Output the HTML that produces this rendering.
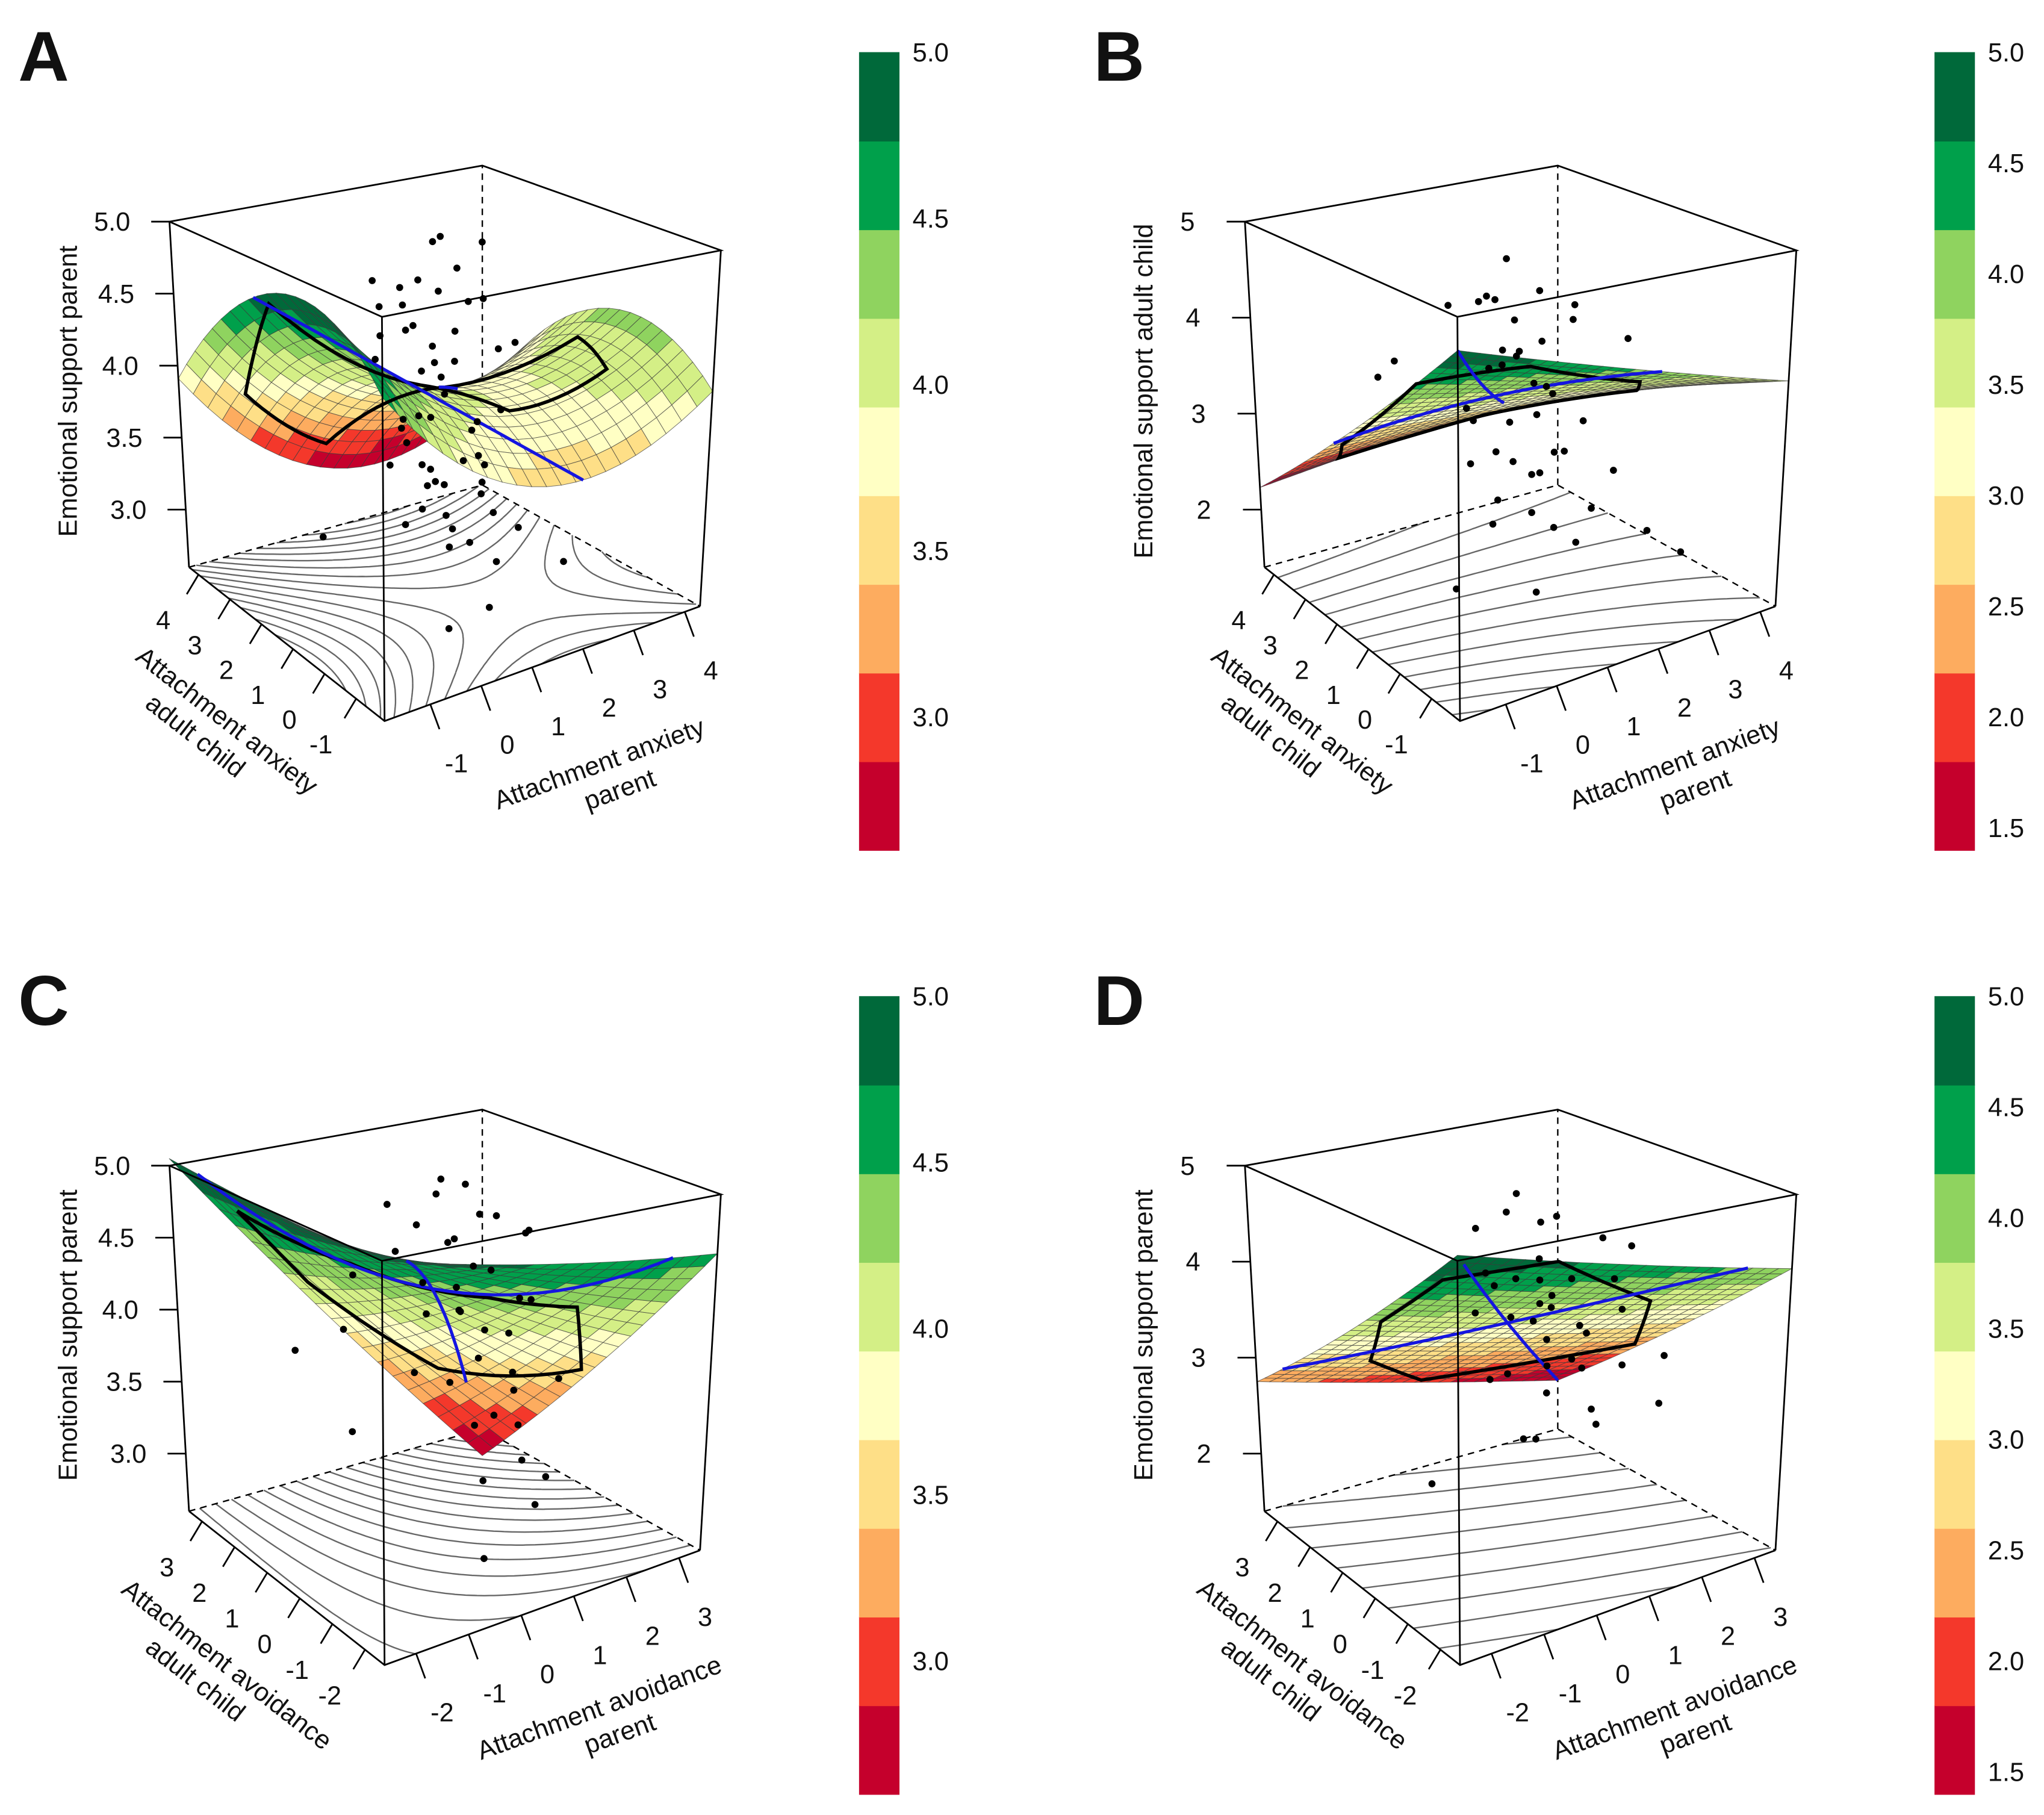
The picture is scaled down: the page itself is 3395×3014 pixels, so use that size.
<!DOCTYPE html>
<html><head><meta charset="utf-8">
<style>
html,body{margin:0;padding:0;background:#fff;}
svg{display:block;}
text{font-family:"Liberation Sans",Arial,sans-serif;fill:#111;}
</style></head>
<body>
<svg id="fig" width="3395" height="3014" viewBox="0 0 1568 1392" preserveAspectRatio="none" xmlns="http://www.w3.org/2000/svg"></svg>
<script>
// ---------- data ----------
const palette = ["#c5002c","#f4382b","#fdac5f","#fedf87","#ffffc4","#d4ef86","#8fd35f","#00a04b","#00693a"];
const rangeAnx = [-1.9, 4.3];
const rangeAvo = [-2.6, 3.4];
const zRangeAC = [2.6, 5.0];
const zRangeBD = [1.4, 5.0];
const zTicksAC = [3.0, 3.5, 4.0, 4.5, 5.0];
const zTicksBD = [2, 3, 4, 5];
const xyTicksAnx = [-1, 0, 1, 2, 3, 4];
const xyTicksAvo = [-2, -1, 0, 1, 2, 3];
const cbLabelsAC = [3.0, 3.5, 4.0, 4.5, 5.0];
const cbLabelsBD = [1.5, 2.0, 2.5, 3.0, 3.5, 4.0, 4.5, 5.0];
// surface coefficients in normalized diagonal coords: [const, D, D^2, S, S^2, D*S]
const coefA = [4.0, -0.07, -0.02, -0.63, -0.11, -2.4];
const coefB = [3.3, -0.725, -0.345, -1.085, 0.315, 0];
const coefC = [4.2, 0.225, 0.625, -1.3, -0.5, 0];
const coefD = [3.5, -0.75, 0, -1.55, 0, 0];
const pointsA = [[1.5,1.8,4.9],[2.0,2.3,4.85],[2.6,2.0,4.8],[0.4,1.9,4.7],[0.8,1.2,4.75],[1.0,2.0,4.6],[1.4,1.5,4.6],[1.7,1.1,4.55],[0.5,0.9,4.5],[1.1,0.6,4.45],[2.2,1.4,4.5],[0.2,1.4,4.4],[0.9,1.7,4.35],[1.8,0.4,4.3],[1.3,0.9,4.2],[2.4,0.8,4.25],[0.7,0.3,4.1],[1.6,1.9,4.05],[0.1,0.6,3.95],[1.2,0.1,3.9],[2.0,0.6,3.85],[0.6,1.4,3.75],[1.0,0.2,3.65],[1.5,0.5,3.6],[0.3,0.2,3.55],[0.9,1.0,3.5],[1.9,0.9,3.45],[0.4,-0.2,3.4],[1.2,1.3,3.35],[0.0,0.4,3.3],[1.6,0.2,3.25],[0.8,-0.3,3.2],[2.1,0.2,3.1],[1.4,-0.2,3.0],[-0.6,2.0,3.05],[2.6,-0.4,2.9],[1.0,-0.6,2.8],[0.2,-0.6,2.75],
  [0.3,0.9,4.65],[0.6,0.5,4.4],[-0.1,1.1,4.3],[0.5,0.1,4.25],[1.0,1.4,4.1],[0.2,0.3,4.0],[0.7,0.7,3.9],[1.3,0.4,3.8],[0.0,-0.1,3.75],[0.5,1.1,3.7],[1.1,-0.2,3.55],[0.9,0.6,3.45],[0.4,0.5,3.35],[1.7,0.7,3.3],[0.6,0.0,3.15],[1.2,0.8,3.1],[0.1,1.0,3.6],[0.8,2.3,4.45],[1.9,1.7,4.7]];
const pointsB = [[1.4,1.7,4.7],[0.9,1.3,4.4],[1.9,1.5,4.35],[0.4,1.9,4.3],[1.2,2.2,4.2],[2.2,1.0,4.1],[0.7,0.8,4.0],[1.6,1.0,3.95],[2.8,1.8,4.05],[3.2,0.9,3.8],[0.0,2.9,3.6],[-0.4,2.8,3.5],[1.1,1.4,3.7],[1.8,2.0,3.6],[0.5,0.3,3.4],[1.3,0.7,3.3],[2.0,0.4,3.2],[0.8,1.8,3.1],[1.5,0.2,3.0],[0.2,1.0,2.9],[1.0,0.4,2.8],[2.4,0.1,2.7],[0.6,-0.2,2.6],[1.7,-0.3,2.5],[1.2,-0.6,2.3],[2.6,-0.6,2.2],[0.3,-0.8,2.0],[-0.5,0.4,1.9],[3.0,-1.0,2.0],[1.9,1.3,3.4],[0.1,0.1,3.2],
  [0.6,1.1,4.5],[1.0,0.9,4.25],[0.3,0.6,3.9],[0.9,0.2,3.75],[1.4,0.4,3.55],[0.4,1.4,3.35],[1.1,-0.1,3.1],[0.7,0.5,2.95],[0.2,0.2,2.7],[1.5,0.9,2.65],[0.9,-0.4,2.45],[0.5,0.8,2.3],[1.3,1.2,3.85]];
const pointsC = [[1.0,1.2,4.9],[0.7,0.9,4.85],[1.3,0.6,4.7],[0.2,1.5,4.75],[1.6,1.4,4.8],[1.9,1.0,4.6],[0.5,0.3,4.6],[2.3,0.7,4.5],[0.0,1.0,4.5],[1.1,0.0,4.4],[2.6,1.2,4.4],[-0.4,1.6,4.3],[0.8,0.5,4.25],[1.5,-0.2,4.2],[2.0,0.2,4.1],[0.3,0.6,4.1],[-0.8,1.3,4.0],[1.2,1.0,4.0],[0.6,-0.4,3.9],[1.8,0.5,3.85],[-0.2,0.2,3.8],[1.0,-0.8,3.7],[0.4,-0.6,3.5],[2.2,-0.3,3.6],[-1.0,0.8,3.4],[0.9,-1.2,3.3],[1.5,-1.0,3.1],[-1.6,1.5,3.9],[0.0,-1.5,2.8],
  [0.4,1.0,4.65],[0.9,0.7,4.55],[0.1,0.4,4.35],[1.4,0.9,4.3],[0.6,0.1,4.15],[1.2,0.3,3.95],[0.2,-0.2,3.75],[1.6,0.1,3.65],[0.7,-0.7,3.55],[1.3,-0.5,3.4],[0.3,-1.0,3.2],[1.1,-1.3,3.0]];
const pointsD = [[1.0,1.2,4.7],[0.6,0.9,4.6],[1.4,0.7,4.5],[0.3,1.3,4.4],[1.6,1.4,4.3],[2.2,0.6,4.2],[0.8,0.3,4.2],[0.0,0.6,4.1],[1.2,0.0,4.0],[2.0,0.0,3.9],[0.4,-0.3,3.9],[1.8,-0.5,3.7],[-0.4,0.3,3.8],[1.0,-0.7,3.6],[0.2,-0.8,3.4],[1.4,-1.1,3.3],[2.4,-0.8,3.2],[-0.6,-0.4,3.3],[0.7,-1.3,3.0],[1.9,-1.4,2.9],[-0.2,-1.1,2.8],[0.9,0.6,3.5],[0.0,0.0,3.2],[1.3,1.0,3.8],[-1.2,0.4,2.2],[2.6,0.4,4.1],
  [0.5,0.5,4.0],[0.9,0.1,3.85],[0.2,0.2,3.7],[1.1,0.4,3.65],[0.6,-0.2,3.5],[1.5,0.2,3.45],[0.3,0.8,3.9],[0.8,-0.6,3.35],[1.2,-0.3,3.15],[0.4,-0.5,3.05],[1.0,-1.0,2.75],[0.1,-0.3,2.6]];
const hullA = [[-1.75,1.67],[-0.97,3.68],[0.74,3.84],[1.36,1.67],[3.68,0.89],[3.37,-0.35],[1.51,-0.35],[0.74,1.05]];
const hullB = [[-0.66,3.68],[-1.59,2.13],[-1.9,-0.66],[-0.35,-1.59],[2.13,-0.97],[3.37,0.89],[2.13,3.37]];
const hullC = [[-1.85,2.65],[-0.35,2.95],[1.75,2.35],[3.25,0.55],[2.05,-0.95],[0.7,-0.5],[-0.95,0.85]];
const hullD = [[-1.25,2.05],[0.55,3.25],[3.25,1.15],[1.9,-1.1],[-0.8,-2.6],[-2.3,-1.7],[-2.3,0.1]];
const linesA = [[[-1.9,1.9],[1.9,-1.9]],[[1.2,1.2],[2.44,2.44]]];
const linesB = [[[-1.9,1.9],[1.9,-1.9]],[[-1.9,-1.9],[0.58,0.58]]];
const linesC = [[[-2.6,2.6],[2.6,-2.6]],[[-1.4,-1.4],[2.2,2.2]]];
const linesD = [[[-2.6,2.6],[2.6,-2.6]],[[-2.3,-2.3],[3.4,3.4]]];

// ---------- geometry (panel A frame; others offset) ----------
const BOT = {F:[295,553],R:[537,465],L:[145,435],B:[370,372]};
const TOP = {F:[293,243],R:[553,192],L:[130,170],B:[370,127]};
const NS = "http://www.w3.org/2000/svg";
const svg = document.getElementById('fig');
function el(tag, attrs, parent){
  const e = document.createElementNS(NS, tag);
  for (const k in attrs) e.setAttribute(k, attrs[k]);
  (parent||svg).appendChild(e);
  return e;
}
function bil(Q,u,v){
  return [Q.F[0]*(1-u)*(1-v)+Q.R[0]*u*(1-v)+Q.L[0]*(1-u)*v+Q.B[0]*u*v,
          Q.F[1]*(1-u)*(1-v)+Q.R[1]*u*(1-v)+Q.L[1]*(1-u)*v+Q.B[1]*u*v];
}

function drawPanel(cfg){
  const g = el('g', {});
  
  
  const [ox, oy] = cfg.off;
  const xr = cfg.xr, zr = cfg.zr;
  const clipLo = cfg.clipLo;
  const nx = x => (x - xr[0])/(xr[1]-xr[0]);
  const nz = z => (z - zr[0])/(zr[1]-zr[0]);
  const P = (u,v,w) => { const b = bil(BOT,u,v), t = bil(TOP,u,v); return [ox + b[0]+(t[0]-b[0])*w, oy + b[1]+(t[1]-b[1])*w]; };
  const proj = (x,y,z) => P(nx(x), nx(y), nz(z));
  const c = cfg.coef;
  const fN = (u,v) => { const D = v-u, S = u+v-1; return c[0]+c[1]*D+c[2]*D*D+c[3]*S+c[4]*S*S+c[5]*D*S; };
  const f = (x,y) => fN(nx(x), nx(y));
  const pts = a => a.map(p => p[0].toFixed(1)+','+p[1].toFixed(1)).join(' ');

  // floor contours (marching squares)
  const gc = el('g', {}, g);
  
  
  const N = 48;
  let zmin = Infinity, zmax = -Infinity;
  const grid = [];
  for (let i=0;i<=N;i++){ grid.push([]); for (let j=0;j<=N;j++){ const z=fN(i/N,j/N); grid[i].push(z); zmin=Math.min(zmin,z); zmax=Math.max(zmax,z);} }
  let d = '';
  const start = Math.ceil(zmin/cfg.cstep)*cfg.cstep;
  for (let L = start; L < zmax; L += cfg.cstep){
    for (let i=0;i<N;i++) for (let j=0;j<N;j++){
      const cs = [[i,j],[i+1,j],[i+1,j+1],[i,j+1]];
      const ip = [];
      for (let k=0;k<4;k++){
        const a = cs[k], b = cs[(k+1)%4];
        const za = grid[a[0]][a[1]]-L, zb = grid[b[0]][b[1]]-L;
        if ((za<0)!==(zb<0)){ const t = za/(za-zb); ip.push([(a[0]+(b[0]-a[0])*t)/N,(a[1]+(b[1]-a[1])*t)/N]); }
      }
      for (let k=0;k+1<ip.length;k+=2){
        const p1 = P(ip[k][0],ip[k][1],0), p2 = P(ip[k+1][0],ip[k+1][1],0);
        d += 'M'+p1[0].toFixed(1)+' '+p1[1].toFixed(1)+'L'+p2[0].toFixed(1)+' '+p2[1].toFixed(1);
      }
    }
  }
  el('path', {d:d, stroke:'#666', 'stroke-width':1.1, fill:'none'}, gc);

  // back edges dashed
  const dash = {stroke:'#000','stroke-width':1.1,'stroke-dasharray':'5,4',fill:'none'};
  const lb = P(0,1,0), bb = P(1,1,0), rb = P(1,0,0), bt = P(1,1,1);
  el('polyline', Object.assign({points:pts([lb,bb,rb])}, dash), g);
  el('line', Object.assign({x1:bb[0],y1:bb[1],x2:bt[0],y2:bt[1]}, dash), g);

  // surface
  const gs = el('g', {}, g);
  
  
  const M = cfg.mesh;
  let smin=Infinity, smax=-Infinity;
  for (let i=0;i<=M;i++) for (let j=0;j<=M;j++){ const z=fN(i/M,j/M); if (z>=clipLo && z<=zr[1]+0.15){ smin=Math.min(smin,z); smax=Math.max(smax,z);} }
  const cells = [];
  for (let i=0;i<M;i++) for (let j=0;j<M;j++) cells.push([i,j]);
  cells.sort((a,b)=> (b[0]+b[1]) - (a[0]+a[1]));
  cells.forEach(([i,j])=>{
    const cz = [[i,j],[i+1,j],[i+1,j+1],[i,j+1]].map(([a,b])=>[a,b,fN(a/M,b/M)]);
    if (cz.some(p=>p[2] < clipLo || p[2] > zr[1]+0.15)) return;
    const q = cz.map(([a,b,z])=>P(a/M,b/M,nz(z)));
    const zc = fN((i+0.5)/M,(j+0.5)/M);
    const k = Math.max(0, Math.min(8, Math.floor((zc-smin)/(smax-smin)*9)));
    el('polygon', {points:pts(q), fill:palette[k], stroke:'#3a3a3a','stroke-width':0.45,'stroke-opacity':0.7}, gs);
  });

  // hull
  const hp = [];
  for (let k=0;k<cfg.hull.length;k++){
    const a = cfg.hull[k], b = cfg.hull[(k+1)%cfg.hull.length];
    for (let s=0;s<10;s++){ const t=s/10, x=a[0]+(b[0]-a[0])*t, y=a[1]+(b[1]-a[1])*t; hp.push(proj(x,y,f(x,y))); }
  }
  const hull = el('polygon', {points:pts(hp), fill:'none', stroke:'#000','stroke-width':2.6}, g);
  
  

  // LOC / LOIC
  cfg.lines.forEach((ln, idx)=>{
    const lp = [];
    for (let s=0;s<=30;s++){ const t=s/30, x=ln[0][0]+(ln[1][0]-ln[0][0])*t, y=ln[0][1]+(ln[1][1]-ln[0][1])*t; lp.push(proj(x,y,f(x,y))); }
    const pl = el('polyline', {points:pts(lp), fill:'none', stroke:'#1515e0','stroke-width':2.4}, g);
    
    
  });

  // points
  const gp = el('g', {}, g);
  
  
  cfg.points.forEach(p=>{
    const s = proj(p[0],p[1],p[2]);
    const dot = el('circle', {cx:s[0].toFixed(1), cy:s[1].toFixed(1), r:2.7, fill:'#000'}, gp);
    
    
  });

  // box solid edges
  const solid = {stroke:'#000','stroke-width':1.3,fill:'none'};
  const lf = P(0,0,0), tf=P(0,0,1), tl=P(0,1,1), tr=P(1,0,1), tb=P(1,1,1), rt=P(1,0,1);
  el('polyline', Object.assign({points:pts([lb,lf,rb])}, solid), g);
  el('polygon', Object.assign({points:pts([tf,tr,tb,tl])}, solid), g);
  [[lf,tf],[lb,tl],[rb,rt]].forEach(([a,b])=>el('line', Object.assign({x1:a[0],y1:a[1],x2:b[0],y2:b[1]}, solid), g));

  // z axis ticks
  cfg.zTicks.forEach(t=>{
    const p = P(0,1,nz(t));
    el('line', {x1:p[0],y1:p[1],x2:p[0]-14,y2:p[1],stroke:'#000','stroke-width':1.3}, g);
    const tx = el('text', {x:p[0]-44, y:p[1]+7, 'font-size':20, 'text-anchor':'middle'}, g);
    tx.textContent = cfg.zFmt(t);
    
    
  });
  // y axis (child) ticks along front-left edge
  cfg.xyTicks.forEach(t=>{
    const p = P(0,nx(t),0);
    el('line', {x1:p[0],y1:p[1],x2:p[0]-9,y2:p[1]+15,stroke:'#000','stroke-width':1.3}, g);
    const tx = el('text', {x:p[0]-27, y:p[1]+42, 'font-size':20, 'text-anchor':'middle'}, g);
    tx.textContent = t;
    
    
  });
  // x axis (parent) ticks along front-right edge
  cfg.xyTicks.forEach(t=>{
    const p = P(nx(t),0,0);
    el('line', {x1:p[0],y1:p[1],x2:p[0]+7,y2:p[1]+19,stroke:'#000','stroke-width':1.3}, g);
    const tx = el('text', {x:p[0]+20, y:p[1]+52, 'font-size':20, 'text-anchor':'middle'}, g);
    tx.textContent = t;
    
    
  });

  // axis titles
  const zt = el('text', {x:0,y:0,'font-size':20,'text-anchor':'middle',transform:'translate('+(ox+59)+','+(oy+300)+') rotate(-90)'}, g);
  zt.textContent = cfg.zTitle;
  
  
  const yt = el('text', {x:0,y:0,'font-size':20,'text-anchor':'middle',transform:'translate('+(ox+170)+','+(oy+558)+') rotate(38)'}, g);
  
  
  el('tspan', {x:0, dy:0}, yt).textContent = cfg.xyTitle;
  el('tspan', {x:-12, dy:24}, yt).textContent = 'adult child';
  const xt = el('text', {x:0,y:0,'font-size':20,'text-anchor':'middle',transform:'translate('+(ox+462)+','+(oy+592)+') rotate(-20)'}, g);
  
  
  el('tspan', {x:0, dy:0}, xt).textContent = cfg.xyTitle;
  el('tspan', {x:8, dy:24}, xt).textContent = 'parent';

  // colorbar
  const gb = el('g', {}, g);
  
  
  const cbx = ox + 659, cbT = oy + 40, cbB = oy + 652, cbW = 31;
  const bh = (cbB-cbT)/9;
  for (let k=0;k<9;k++){
    el('rect', {x:cbx, y:(cbB-(k+1)*bh).toFixed(2), width:cbW, height:(bh+0.5).toFixed(2), fill:palette[k]}, gb);
  }
  const cy = v => cbB - (v - zr[0])/(zr[1]-zr[0])*(cbB-cbT);
  cfg.cbLabels.forEach(v=>{
    const tx = el('text', {x:cbx+cbW+10, y:Math.min(cy(v)+7, cbB-2), 'font-size':20}, gb);
    tx.textContent = v.toFixed(1);
    
    
  });

  // panel letter
  const lt = el('text', {x:ox+14, y:oy+62, 'font-size':54, 'font-weight':'bold'}, g);
  lt.textContent = cfg.letter;
  
  
}

drawPanel({name:'panel-a', letter:'A', off:[0,0], xr:rangeAnx, zr:zRangeAC, clipLo:2.6, coef:coefA, mesh:22, cstep:0.12,
  points:pointsA, hull:hullA, lines:linesA, zTicks:zTicksAC, zFmt:t=>t.toFixed(1), xyTicks:xyTicksAnx,
  cbLabels:cbLabelsAC, zTitle:'Emotional support parent', xyTitle:'Attachment anxiety'});
drawPanel({name:'panel-b', letter:'B', off:[825,0], xr:rangeAnx, zr:zRangeBD, clipLo:1.4, coef:coefB, mesh:30, cstep:0.2,
  points:pointsB, hull:hullB, lines:linesB, zTicks:zTicksBD, zFmt:t=>String(t), xyTicks:xyTicksAnx,
  cbLabels:cbLabelsBD, zTitle:'Emotional support adult child', xyTitle:'Attachment anxiety'});
drawPanel({name:'panel-c', letter:'C', off:[0,724], xr:rangeAvo, zr:zRangeAC, clipLo:2.35, coef:coefC, mesh:20, cstep:0.15,
  points:pointsC, hull:hullC, lines:linesC, zTicks:zTicksAC, zFmt:t=>t.toFixed(1), xyTicks:xyTicksAvo,
  cbLabels:cbLabelsAC, zTitle:'Emotional support parent', xyTitle:'Attachment avoidance'});
drawPanel({name:'panel-d', letter:'D', off:[825,724], xr:rangeAvo, zr:zRangeBD, clipLo:1.4, coef:coefD, mesh:25, cstep:0.3,
  points:pointsD, hull:hullD, lines:linesD, zTicks:zTicksBD, zFmt:t=>String(t), xyTicks:xyTicksAvo,
  cbLabels:cbLabelsBD, zTitle:'Emotional support parent', xyTitle:'Attachment avoidance'});
</script>
</body></html>
